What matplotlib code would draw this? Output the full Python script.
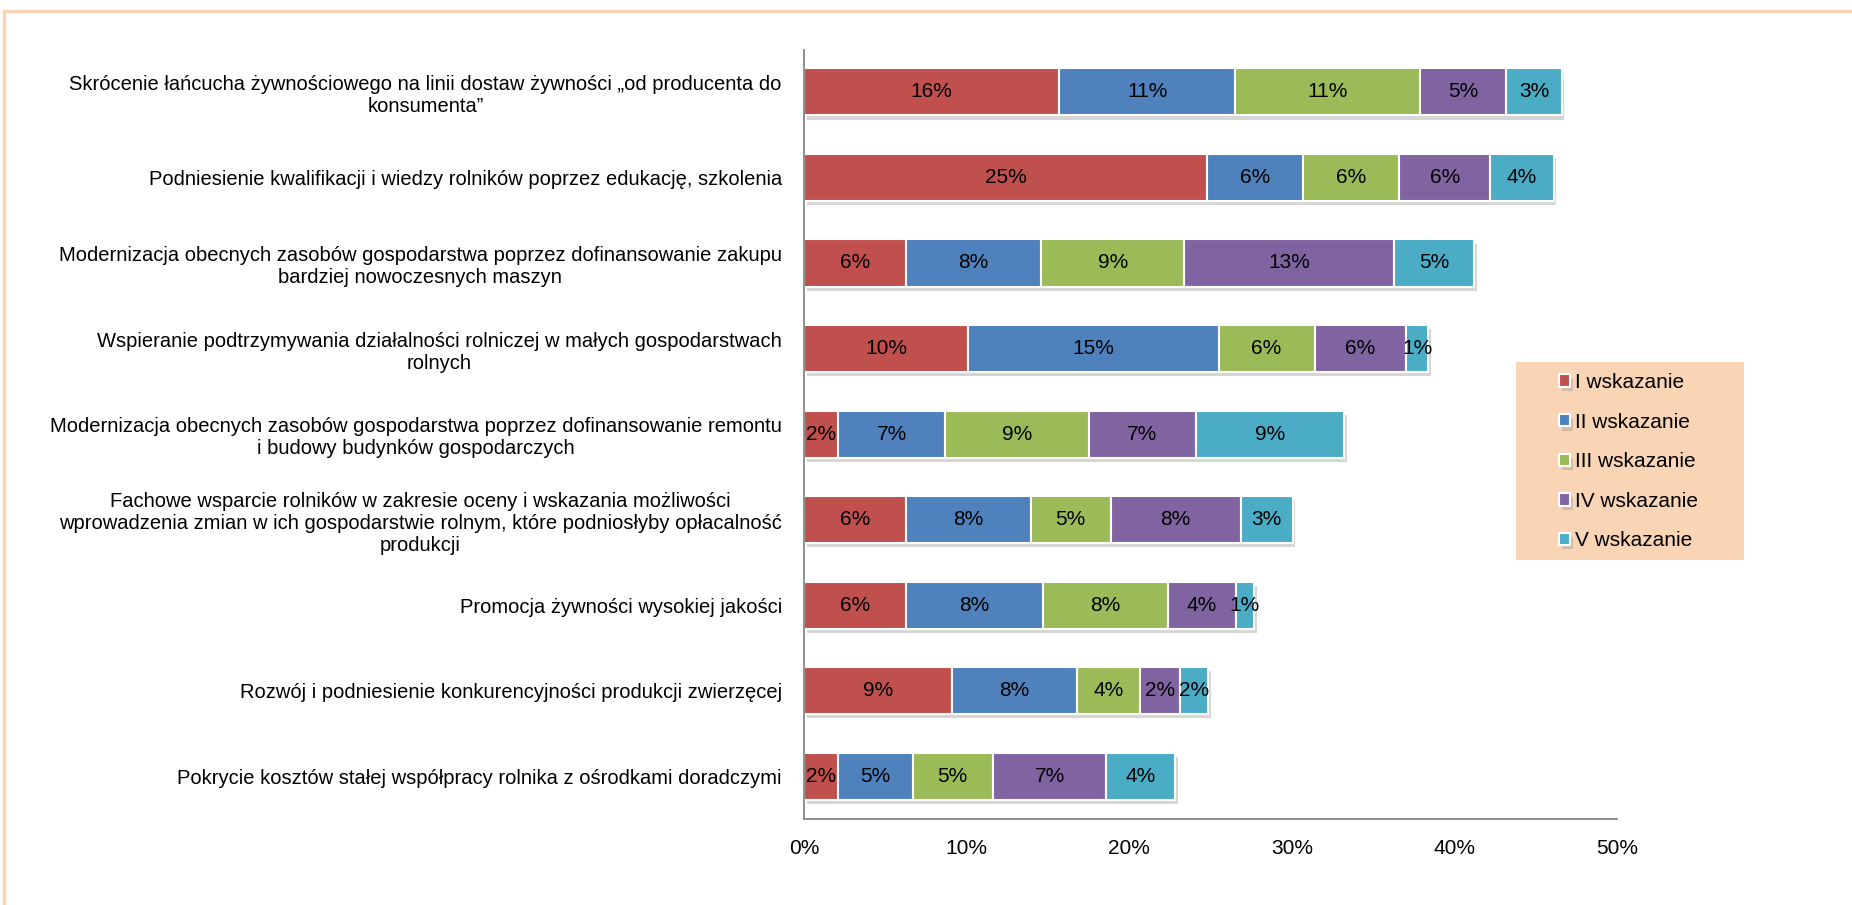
import numpy as np
import matplotlib
matplotlib.use('Agg')
import matplotlib.pyplot as plt
import matplotlib.patheffects as pe
from matplotlib.lines import Line2D
from matplotlib.patches import Rectangle

plt.rcParams['font.family'] = ['Liberation Sans', 'DejaVu Sans']

# categories, top to bottom
categories = [
    'Skrócenie łańcucha żywnościowego na linii dostaw żywności „od producenta do\nkonsumenta”',
    'Podniesienie kwalifikacji i wiedzy rolników poprzez edukację, szkolenia',
    'Modernizacja obecnych zasobów gospodarstwa poprzez dofinansowanie zakupu\nbardziej nowoczesnych maszyn',
    'Wspieranie podtrzymywania działalności rolniczej w małych gospodarstwach\nrolnych',
    'Modernizacja obecnych zasobów gospodarstwa poprzez dofinansowanie remontu\ni budowy budynków gospodarczych',
    'Fachowe wsparcie rolników w zakresie oceny i wskazania możliwości\nwprowadzenia zmian w ich gospodarstwie rolnym, które podniosłyby opłacalność\nprodukcji',
    'Promocja żywności wysokiej jakości',
    'Rozwój i podniesienie konkurencyjności produkcji zwierzęcej',
    'Pokrycie kosztów stałej współpracy rolnika z ośrodkami doradczymi',
]

series_names = ['I wskazanie', 'II wskazanie', 'III wskazanie', 'IV wskazanie', 'V wskazanie']

# percent values per series (same order as categories)
wsk_1 = [15.7, 24.8, 6.25, 10.1, 2.1, 6.25, 6.27, 9.1, 2.1]
wsk_2 = [10.8, 5.9, 8.35, 15.4, 6.6, 7.7, 8.4, 7.7, 4.6]
wsk_3 = [11.4, 5.9, 8.8, 5.9, 8.8, 4.9, 7.7, 3.85, 4.9]
wsk_4 = [5.3, 5.6, 12.9, 5.6, 6.6, 8.0, 4.2, 2.45, 7.0]
wsk_5 = [3.4, 3.9, 4.9, 1.4, 9.1, 3.2, 1.1, 1.75, 4.2]

x_ticks = [0, 10, 20, 30, 40, 50]

colors = ['#C0504D', '#4F81BD', '#9BBB59', '#8064A2', '#4BACC6']

W, H = 1852, 905
fig = plt.figure(figsize=(W / 100, H / 100), dpi=100)
ax = fig.add_axes([804 / W, 1 - 819 / H, (1617 - 804) / W, (819 - 50) / H])

y = np.arange(len(categories))
left = np.zeros(len(categories))
shadow = [pe.SimplePatchShadow(offset=(2, -3), shadow_rgbFace='0.55', alpha=0.35), pe.Normal()]

for name, vals, col in zip(series_names, [wsk_1, wsk_2, wsk_3, wsk_4, wsk_5], colors):
    vals = np.array(vals)
    bars = ax.barh(y, vals, left=left, height=0.55, color=col, edgecolor='white',
                   linewidth=1.5, label=name)
    for b in bars:
        b.set_path_effects(shadow)
    ax.bar_label(bars, labels=['%.0f%%' % v for v in vals], label_type='center',
                 fontsize=15, color='black')
    left = left + vals

ax.set_xlim(0, 50)
ax.set_ylim(-0.49, len(categories) - 0.5)
ax.invert_yaxis()
ax.set_yticks(y)
ax.set_yticklabels(categories, fontsize=14.5)
for t in ax.get_yticklabels():
    t.set_multialignment('center')
ax.set_xticks(x_ticks)
ax.set_xticklabels(['%d%%' % v for v in x_ticks], fontsize=15)
ax.tick_params(axis='y', length=0, pad=16)
ax.tick_params(axis='x', length=0, pad=14.5)

for s in ['top', 'right']:
    ax.spines[s].set_visible(False)
ax.spines['left'].set_color('#878787')
ax.spines['bottom'].set_color('#878787')
ax.spines['left'].set_linewidth(1.3)
ax.spines['bottom'].set_linewidth(1.3)

# legend background box
fig.add_artist(Rectangle((1516 / W, 1 - 560 / H), (1744 - 1516) / W, (560 - 362) / H,
                         transform=fig.transFigure, facecolor='#FAD5B5', edgecolor='none'))
leg = fig.legend(loc='center left', bbox_to_anchor=(1559 / W, 1 - 461.7 / H), fontsize=15,
                 handlelength=0.53, handleheight=0.53, handletextpad=0.24,
                 labelspacing=0.99, borderpad=0, frameon=False, borderaxespad=0)
for h in leg.legend_handles:
    h.set_edgecolor('white')

# light orange frame (only top and left visible)
fig.add_artist(Line2D([0.0022, 1.0], [0.988, 0.988], transform=fig.transFigure,
                      color='#FAD5B5', linewidth=2.5))
fig.add_artist(Line2D([0.0022, 0.0022], [0.0, 0.988], transform=fig.transFigure,
                      color='#FAD5B5', linewidth=2.5))

fig.savefig('out.png', dpi=100)
